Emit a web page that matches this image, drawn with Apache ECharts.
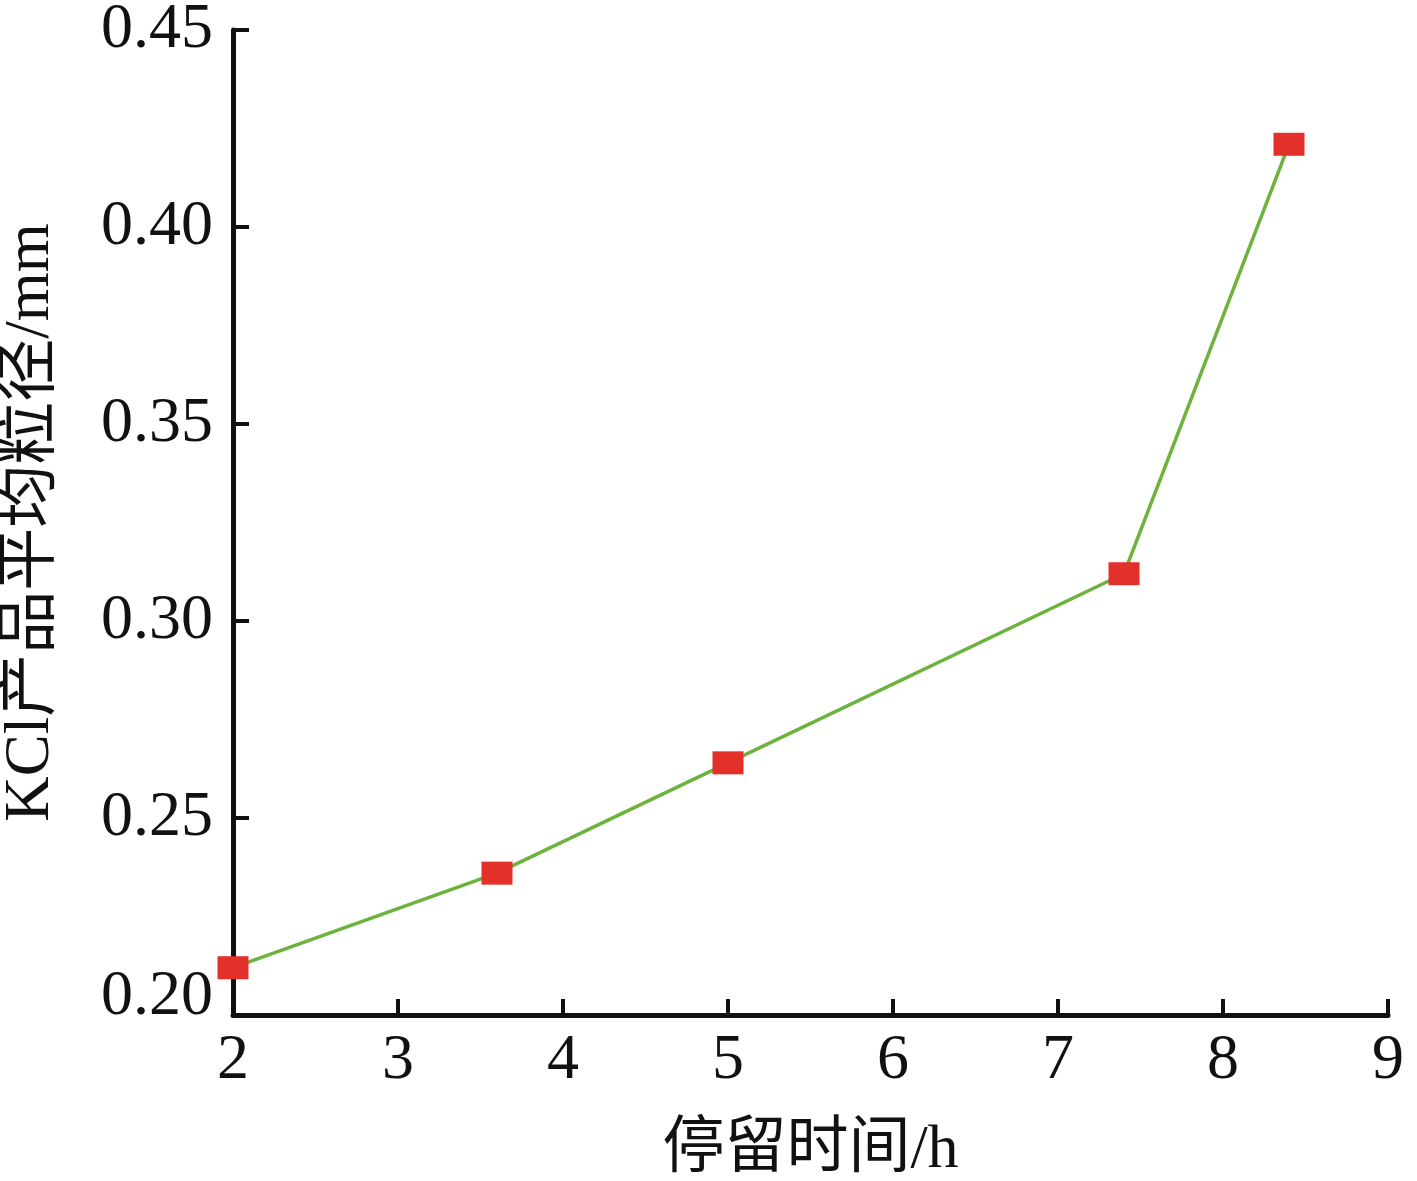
<!DOCTYPE html>
<html><head><meta charset="utf-8">
<script src="https://cdn.jsdelivr.net/npm/echarts@6/dist/echarts.min.js"></script>
<style>html,body{margin:0;padding:0;background:#fff}#c{width:1417px;height:1181px}</style>
</head><body><div id="c"></div>
<script>
const xValues = [2, 3.6, 5, 7.4, 8.4];
const yValues = [0.212, 0.236, 0.264, 0.312, 0.421];
const xTitle = '停留时间/h';
const yTitle = 'KCl产品平均粒径/mm';
const FONT = 'Liberation Serif, Times New Roman, Noto Sans CJK SC, serif';

const chart = echarts.init(document.getElementById('c'));
chart.setOption({
  animation: false,
  backgroundColor: '#fff',
  grid: {left: 233, right: 29, top: 30, bottom: 166, containLabel: false, outerBoundsMode: 'none'},
  xAxis: {
    type: 'value', min: 2, max: 9, interval: 1,
    name: xTitle, nameLocation: 'middle', nameGap: 105, nameMoveOverlap: false,
    nameTextStyle: {fontFamily: FONT, fontSize: 62, color: '#111'},
    axisLine: {show: true, onZero: false, lineStyle: {color: '#111', width: 5}},
    axisTick: {show: true, inside: true, length: 16, lineStyle: {color: '#111', width: 4}},
    axisLabel: {fontFamily: FONT, fontSize: 64, color: '#111', margin: 14},
    splitLine: {show: false}
  },
  yAxis: {
    type: 'value', min: 0.20, max: 0.45, interval: 0.05,
    name: yTitle, nameLocation: 'middle', nameGap: 170, nameRotate: 90, nameMoveOverlap: false,
    nameTextStyle: {fontFamily: FONT, fontSize: 63, color: '#111'},
    axisLine: {show: true, lineStyle: {color: '#111', width: 5}},
    axisTick: {show: true, inside: true, length: 16, lineStyle: {color: '#111', width: 4}},
    axisLabel: {
      fontFamily: FONT, fontSize: 64, color: '#111', margin: 20,
      formatter: v => Math.abs(v - 0.2) < 1e-9 ? '{low|0.20}' : v.toFixed(2),
      rich: {low: {fontFamily: FONT, fontSize: 64, color: '#111', padding: [0, 0, 36, 0]}}
    },
    splitLine: {show: false}
  },
  series: [{
    type: 'line',
    data: xValues.map((x, i) => [x, yValues[i]]),
    lineStyle: {color: '#6cb33e', width: 3.5},
    symbol: 'rect', symbolSize: [31, 23],
    itemStyle: {color: '#e3302a', borderRadius: 2},
    z: 3
  }]
});
</script></body></html>
